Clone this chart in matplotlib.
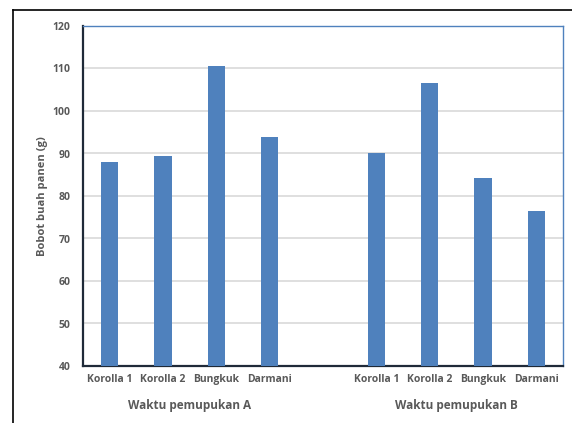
import matplotlib.pyplot as plt
from matplotlib.lines import Line2D

# Données
varietas = ['Korolla 1', 'Korolla 2', 'Bungkuk', 'Darmani']
bobot_A = [88.1, 89.3, 110.7, 93.9]
bobot_B = [90.1, 106.7, 84.3, 76.5]
groupes = ['Waktu pemupukan A', 'Waktu pemupukan B']

plt.rcParams['font.family'] = ['Open Sans', 'DejaVu Sans']
gris = '#595959'
bleu = '#4F81BD'

fig = plt.figure(figsize=(5.72, 4.23), dpi=100)
ax = fig.add_axes([83 / 572, 1 - 366 / 423, 480 / 572, 340 / 423])

# 9 positions : 4 barres, un vide, 4 barres
pos_A = list(range(0, 4))
pos_B = list(range(5, 9))
ax.bar(pos_A, bobot_A, width=0.32, color=bleu, zorder=3)
ax.bar(pos_B, bobot_B, width=0.32, color=bleu, zorder=3)

ax.set_xlim(-0.5, 8.5)
ax.set_ylim(40, 120)
ax.set_yticks(range(40, 121, 10))
ax.set_xticks(pos_A + pos_B)
ax.set_xticklabels(varietas + varietas)
ax.tick_params(axis='both', length=0, colors=gris, labelsize=7.5)
for lab in ax.get_xticklabels() + ax.get_yticklabels():
    lab.set_fontweight('bold')
ax.tick_params(axis='x', pad=6)
ax.tick_params(axis='y', pad=9)

ax.yaxis.grid(True, color='#D9D9D9', linewidth=1.2, zorder=0)
ax.spines['left'].set_color('#1F2A38')
ax.spines['bottom'].set_color('#1F2A38')
ax.spines['left'].set_linewidth(1.6)
ax.spines['bottom'].set_linewidth(1.6)
ax.spines['top'].set_color(bleu)
ax.spines['right'].set_color(bleu)
ax.spines['top'].set_linewidth(1.0)
ax.spines['right'].set_linewidth(1.0)

ax.set_ylabel('Bobot buah panen (g)', color=gris, fontsize=8, fontweight='bold', labelpad=3)

# Étiquettes de groupe
ax.text(1.5, -0.115, groupes[0], transform=ax.get_xaxis_transform(), ha='center', va='center',
        color=gris, fontsize=8.5, fontweight='bold')
ax.text(6.5, -0.115, groupes[1], transform=ax.get_xaxis_transform(), ha='center', va='center',
        color=gris, fontsize=8.5, fontweight='bold')

# Cadre extérieur (gauche et haut)
fig.add_artist(Line2D([13 / 572, 13 / 572], [0, 1 - 10 / 423], color='black', linewidth=1.2))
fig.add_artist(Line2D([13 / 572, 1], [1 - 10 / 423, 1 - 10 / 423], color='black', linewidth=1.2))

fig.savefig('out.png', dpi=100)
